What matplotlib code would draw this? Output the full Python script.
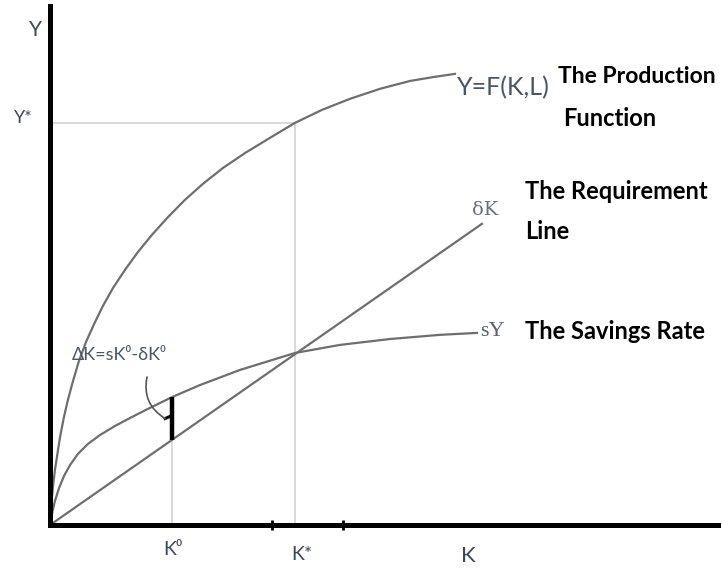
import matplotlib.pyplot as plt

# Solow diagram, values (units chosen so K* = 10)
k_prod = [0, 0.04, 0.08, 0.14, 0.20, 0.29, 0.41, 0.57, 0.73, 0.94, 1.18, 1.47, 1.80, 2.16,
          2.57, 3.06, 3.59, 4.16, 4.82, 5.51, 6.24, 7.06, 7.96, 8.98, 10.0, 11.10, 12.24,
          13.47, 14.69, 15.71, 16.53]
y_prod = [0, 0.61, 1.14, 1.71, 2.24, 2.82, 3.59, 4.41, 5.10, 5.88, 6.69, 7.47, 8.20, 8.94,
          9.67, 10.41, 11.14, 11.84, 12.57, 13.27, 13.92, 14.57, 15.18, 15.80, 16.41, 16.94, 17.39,
          17.80, 18.12, 18.29, 18.41]

k_save = [0, 0.08, 0.20, 0.37, 0.57, 0.82, 1.14, 1.55, 2.04, 2.65, 3.35, 4.08, 4.98,
          6.12, 7.76, 10.0, 11.84, 13.88, 15.92, 17.43]
y_save = [0, 0.45, 0.98, 1.51, 2.00, 2.45, 2.90, 3.31, 3.67, 4.04, 4.41, 4.78, 5.22,
          5.71, 6.33, 7.02, 7.35, 7.59, 7.76, 7.84]

k_dep = [0, 17.63]
y_dep = [0, 12.29]

k0 = 4.98
sk0 = 5.22   # savings at K0
dk0 = 3.47   # requirement at K0
k_star = 10.0
y_star = 16.41
k_ticks = [9.06, 11.96]

curve_col = '#6e6e6e'
guide_col = '#d6d6d6'
lab_col = '#3d4756'
bold_font = ['Lato', 'DejaVu Sans']
reg_font = ['Lato', 'DejaVu Sans']

fig = plt.figure(figsize=(7.21, 5.70), dpi=100)
ax = fig.add_axes([50/721, 45/570, 671/721, 519/570])
ax.set_xlim(0, 27.39)
ax.set_ylim(0, 21.18)

#guide lines
ax.plot([0, k_star], [y_star, y_star], color=guide_col, lw=1.3)
ax.plot([k_star, k_star], [0, y_star], color=guide_col, lw=1.3)
ax.plot([k0, k0], [0, dk0], color=guide_col, lw=1.3)

#curves
ax.plot(k_prod, y_prod, color=curve_col, lw=1.6)
ax.plot(k_save, y_save, color=curve_col, lw=1.6)
ax.plot(k_dep, y_dep, color=curve_col, lw=1.6)

#delta K bracket
ax.plot([k0, k0], [dk0, sk0], color='black', lw=3.2, solid_capstyle='butt')
ax.plot([k0 - 0.28, k0], [(sk0 + dk0) / 2, (sk0 + dk0) / 2 + 0.12], color='black', lw=2.2)
ax.annotate('', xy=(k0 - 0.28, (sk0 + dk0) / 2), xytext=(3.96, 6.04),
            arrowprops=dict(arrowstyle='-', color='#555555', lw=1.2,
                            connectionstyle='arc3,rad=0.35', shrinkA=0, shrinkB=0))

#small ticks on the K axis
ax.plot(k_ticks, [0, 0], ls='none', marker='|', ms=7, mew=2, color='black', clip_on=False)

#axes
for s in ['top', 'right']:
    ax.spines[s].set_visible(False)
for s in ['left', 'bottom']:
    ax.spines[s].set_linewidth(3.6)
    ax.spines[s].set_color('black')
    ax.spines[s].set_capstyle('projecting')
ax.set_xticks([])
ax.set_yticks([])

#axis labels
ax.text(-0.61, 20.2, 'Y', color=lab_col, fontsize=15, family=reg_font, ha='center', va='center')
ax.text(-1.1, 16.6, 'Y*', color=lab_col, fontsize=13, family=reg_font, ha='center', va='center')
ax.text(5.0, -1.0, 'K⁰', color=lab_col, fontsize=14, family=reg_font, ha='center', va='center')
ax.text(10.3, -1.2, 'K*', color=lab_col, fontsize=14, family=reg_font, ha='center', va='center')
ax.text(17.06, -1.25, 'K', color=lab_col, fontsize=16, family=reg_font, ha='center', va='center')

#curve labels
ax.text(16.61, 17.85, 'Y=F(K,L)', color='#4a5566', fontsize=18, family=reg_font, ha='left', va='center')
ax.text(17.76, 12.86, 'δK', color='#6a7080', fontsize=14, family=['DejaVu Serif'], ha='center', va='center')
ax.text(18.04, 7.88, 'sY', color='#5a6070', fontsize=16, family=['Liberation Serif', 'DejaVu Serif'], ha='center', va='center')
ax.text(0.9, 6.95, 'ΔK=sK⁰-δK⁰', color='#4a5566', fontsize=13, family=reg_font, ha='left', va='center')

ax.text(20.74, 18.3, 'The Production', fontsize=16.5, weight='bold', family=bold_font, ha='left', va='center')
ax.text(20.94, 16.6, 'Function', fontsize=17, weight='bold', family=bold_font, ha='left', va='center')
ax.text(19.39, 13.6, 'The Requirement', fontsize=17, weight='bold', family=bold_font, ha='left', va='center')
ax.text(19.39, 11.96, 'Line', fontsize=17, weight='bold', family=bold_font, ha='left', va='center')
ax.text(19.39, 7.88, 'The Savings Rate', fontsize=17, weight='bold', family=bold_font, ha='left', va='center')

plt.savefig('out.png', dpi=100)
